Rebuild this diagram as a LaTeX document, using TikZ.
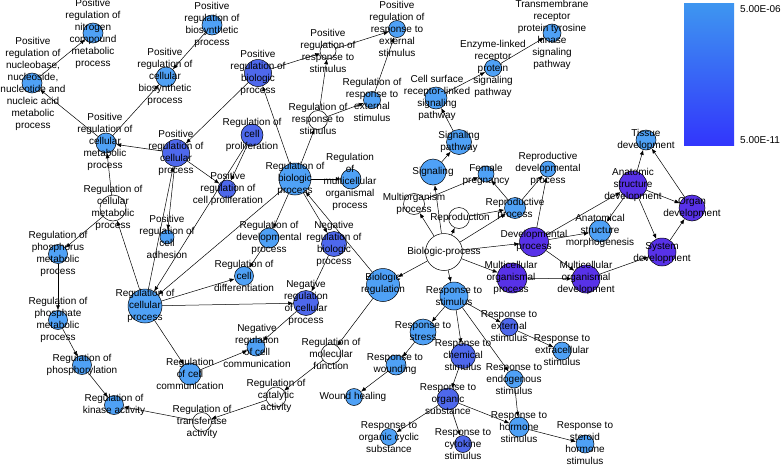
\documentclass[tikz,border=0pt]{standalone}
\usepackage{fontspec}
\setmainfont{Liberation Sans}
\usetikzlibrary{arrows.meta}
\definecolor{clight}{RGB}{79,161,246}
\definecolor{cmed}{RGB}{78,104,236}
\definecolor{cpur}{RGB}{88,50,232}
\definecolor{legtop}{RGB}{62,150,240}
\definecolor{legbot}{RGB}{50,54,252}
\tikzset{
  nd/.style={circle,draw=black,line width=0.5pt,inner sep=0pt},
  lt/.style={nd,fill=clight},
  md/.style={nd,fill=cmed},
  pu/.style={nd,fill=cpur},
  wt/.style={nd,fill=white},
  lab/.style={align=center,font=\fontsize{10}{12}\selectfont,inner sep=0pt,text=black},
  ed/.style={-{Latex[length=5pt,width=4pt]},line width=0.5pt,draw=black}
}
\newcommand\gnode[8]{%
  \node[#5,minimum size=#4] (#1) at (#2,#3) {};
  \node[lab] (#1-t) at (#6,#7) {#8};}
\begin{document}
\begin{tikzpicture}[x=1pt,y=-1pt]
\useasboundingbox (0,0) rectangle (782,466);
% legend
\shade[top color=legtop,bottom color=legbot] (684,3) rectangle (734,145);
\node[lab,anchor=west] (leg1) at (740,9) {5.00E-06};
\node[lab,anchor=west] (leg2) at (740,140) {5.00E-11};
% nodes
\gnode{nit}{93}{33}{20pt}{lt}{93}{34}{Positive\\regulation of\\nitrogen\\compound\\metabolic\\process}
\gnode{nuc}{32}{83}{20pt}{lt}{33}{84}{Positive\\regulation of\\nucleobase,\\nucleoside,\\nucleotide and\\nucleic acid\\metabolic\\process}
\gnode{bios}{212}{25}{20pt}{lt}{212}{25}{Positive\\regulation of\\biosynthetic\\process}
\gnode{cbios}{166}{77}{20pt}{lt}{165}{77}{Positive\\regulation of\\cellular\\biosynthetic\\process}
\gnode{pcm}{106}{143}{20pt}{lt}{105}{142}{Positive\\regulation of\\cellular\\metabolic\\process}
\gnode{prb}{258}{73}{27pt}{md}{258}{73}{Positive\\regulation of\\biologic\\process}
\gnode{pcp}{176}{153}{27pt}{md}{176}{153}{Positive\\regulation of\\cellular\\process}
\gnode{rcpro}{252}{135}{22pt}{md}{252}{135}{Regulation of\\cell\\proliferation}
\gnode{pcpro}{227}{189}{18pt}{md}{228}{189}{Positive\\regulation of\\cell proliferation}
\gnode{rbp}{295}{179}{32pt}{lt}{295}{179}{Regulation of\\biologic\\process}
\gnode{rmop}{351}{179}{20pt}{lt}{350}{182}{Regulation\\of\\multicellular\\organismal\\process}
\gnode{prs}{328}{51}{16pt}{wt}{328}{51}{Positive\\regulation of\\response to\\stimulus}
\gnode{pres}{397}{29}{17pt}{lt}{397}{29}{Positive\\regulation of\\response to\\external\\stimulus}
\gnode{rres}{372}{100}{17pt}{lt}{372}{100}{Regulation of\\response to\\external\\stimulus}
\gnode{rrs}{318}{120}{19pt}{wt}{318}{119}{Regulation of\\response to\\stimulus}
\gnode{csr}{436}{98}{22pt}{lt}{437}{98}{Cell surface\\receptor-linked\\signaling\\pathway}
\gnode{enz}{493}{68}{17pt}{lt}{493}{69}{Enzyme-linked\\receptor\\protein\\signaling\\pathway}
\gnode{tm}{552}{33}{18pt}{lt}{552}{35}{Transmembrane\\receptor\\protein tyrosine\\kinase\\signaling\\pathway}
\gnode{sp}{459}{142}{25pt}{lt}{459}{142}{Signaling\\pathway}
\gnode{sig}{433}{172}{26pt}{lt}{433}{172}{Signaling}
\gnode{fp}{486}{174}{16pt}{lt}{486}{175}{Female\\pregnancy}
\gnode{rdp}{548}{169}{16pt}{lt}{548}{169}{Reproductive\\developmental\\process}
\gnode{rp}{515}{208}{21pt}{lt}{515}{209}{Reproductive\\process}
\gnode{mo}{414}{204}{21pt}{wt}{414}{204}{Multiorganism\\process}
\gnode{repro}{459}{218}{21pt}{wt}{460}{218}{Reproduction}
\gnode{bp}{444}{252}{37pt}{wt}{444}{252}{Biologic-process}
\gnode{dp}{534}{242}{29pt}{pu}{534}{241}{Developmental\\process}
\gnode{asm}{600}{231}{22pt}{lt}{600}{231}{Anatomical\\structure\\morphogenesis}
\gnode{asd}{633}{185}{28pt}{pu}{633}{185}{Anatomic\\structure\\development}
\gnode{td}{646}{140}{20pt}{lt}{646}{140}{Tissue\\development}
\gnode{od}{692}{208}{26pt}{pu}{692}{208}{Organ\\development}
\gnode{sd}{662}{252}{28pt}{pu}{662}{253}{System\\development}
\gnode{mod}{586}{279}{28pt}{pu}{586}{278}{Multicellular\\organismal\\development}
\gnode{mop}{512}{278}{30pt}{pu}{511}{278}{Multicellular\\organismal\\process}
\gnode{br}{383}{285}{33pt}{lt}{383}{284}{Biologic\\regulation}
\gnode{rs}{454}{296}{28pt}{lt}{454}{296}{Response to\\stimulus}
\gnode{nrb}{334}{244}{25pt}{md}{334}{244}{Negative\\regulation of\\biologic\\process}
\gnode{rdev}{269}{238}{20pt}{lt}{269}{238}{Regulation of\\developmental\\process}
\gnode{rcd}{244}{276}{19pt}{lt}{244}{276}{Regulation of\\cell\\differentiation}
\gnode{nrc}{306}{303}{25pt}{md}{306}{303}{Negative\\regulation\\of cellular\\process}
\gnode{rc}{145}{306}{34pt}{lt}{145}{306}{Regulation of\\cellular\\process}
\gnode{pca}{167}{237}{14pt}{lt}{167}{237}{Positive\\regulation of\\cell\\adhesion}
\gnode{rcm}{113}{208}{26pt}{wt}{113}{208}{Regulation of\\cellular\\metabolic\\process}
\gnode{rpm}{58}{254}{19pt}{lt}{58}{254}{Regulation of\\phosphorus\\metabolic\\process}
\gnode{rphm}{58}{320}{19pt}{lt}{58}{320}{Regulation of\\phosphate\\metabolic\\process}
\gnode{rphos}{82}{365}{19pt}{lt}{82}{365}{Regulation of\\phosphorylation}
\gnode{rka}{114}{405}{19pt}{lt}{114}{405}{Regulation of\\kinase activity}
\gnode{rta}{202}{422}{19pt}{wt}{202}{422}{Regulation of\\transferase\\activity}
\gnode{rca}{276}{397}{20pt}{wt}{276}{396}{Regulation of\\catalytic\\activity}
\gnode{rmf}{331}{354}{20pt}{wt}{331}{354}{Regulation of\\molecular\\function}
\gnode{rcc}{190}{374}{22pt}{lt}{190}{374}{Regulation\\of cell\\communication}
\gnode{nrcc}{256}{347}{18pt}{lt}{257}{346}{Negative\\regulation\\of cell\\communication}
\gnode{rstr}{423}{332}{26pt}{lt}{423}{331}{Response to\\stress}
\gnode{rw}{396}{365}{20pt}{lt}{395}{364}{Response to\\wounding}
\gnode{wh}{354}{397}{17pt}{lt}{353}{397}{Wound healing}
\gnode{rch}{463}{356}{25pt}{md}{463}{355}{Response to\\chemical\\stimulus}
\gnode{rext}{509}{327}{18pt}{md}{509}{326}{Response to\\external\\stimulus}
\gnode{rexc}{562}{351}{18pt}{lt}{562}{350}{Response to\\extracellular\\stimulus}
\gnode{rend}{514}{379}{18pt}{lt}{514}{379}{Response to\\endogenous\\stimulus}
\gnode{ros}{448}{399}{22pt}{md}{448}{399}{Response to\\organic\\substance}
\gnode{rh}{519}{427}{20pt}{lt}{519}{427}{Response to\\hormone\\stimulus}
\gnode{rsh}{585}{444}{18pt}{lt}{585}{443}{Response to\\steroid\\hormone\\stimulus}
\gnode{roc}{389}{437}{17pt}{lt}{389}{437}{Response to\\organic cyclic\\substance}
\gnode{rcy}{463}{444}{17pt}{md}{463}{444}{Response to\\cytokine\\stimulus}
% edges
\foreach \a/\b in {nuc/nit,pcm/nuc,pcm/cbios,bios/cbios,pcp/pcm,prb/pcp,rcm/pcm,rc/rcm,rcm/rpm,rpm/rphm,rphm/rphos,rphos/rka,rta/rka,rca/rta,rmf/rca,br/rmf,rc/rcc,rcc/nrcc,nrc/nrcc,nrb/nrc,rbp/nrb,br/rbp,rbp/rmop,rbp/rdev,rdev/rcd,rc/rcd,rc/nrc,rbp/rc,rcpro/rc,rc/pcp,pcp/pca,rcpro/pcpro,pcp/pcpro,rbp/prb,prb/prs,rrs/prs,prs/pres,rres/pres,rrs/rres,rbp/rrs,sig/sp,sp/csr,csr/enz,enz/tm,bp/sig,mo/fp,rp/fp,rp/rdp,dp/rdp,repro/rp,bp/rp,bp/mo,bp/repro,bp/dp,bp/mop,bp/br,bp/rs,dp/asm,dp/asd,asd/asm,dp/mod,mop/mod,mod/sd,asd/sd,asd/od,sd/od,asd/td,od/td,rs/rstr,rs/rch,rs/rext,rs/rend,rext/rexc,rend/rh,ros/rh,rh/rsh,rch/ros,ros/roc,ros/rcy,rstr/rw,rw/wh}
  \draw[ed] (\a) -- (\b);
\end{tikzpicture}
\end{document}
